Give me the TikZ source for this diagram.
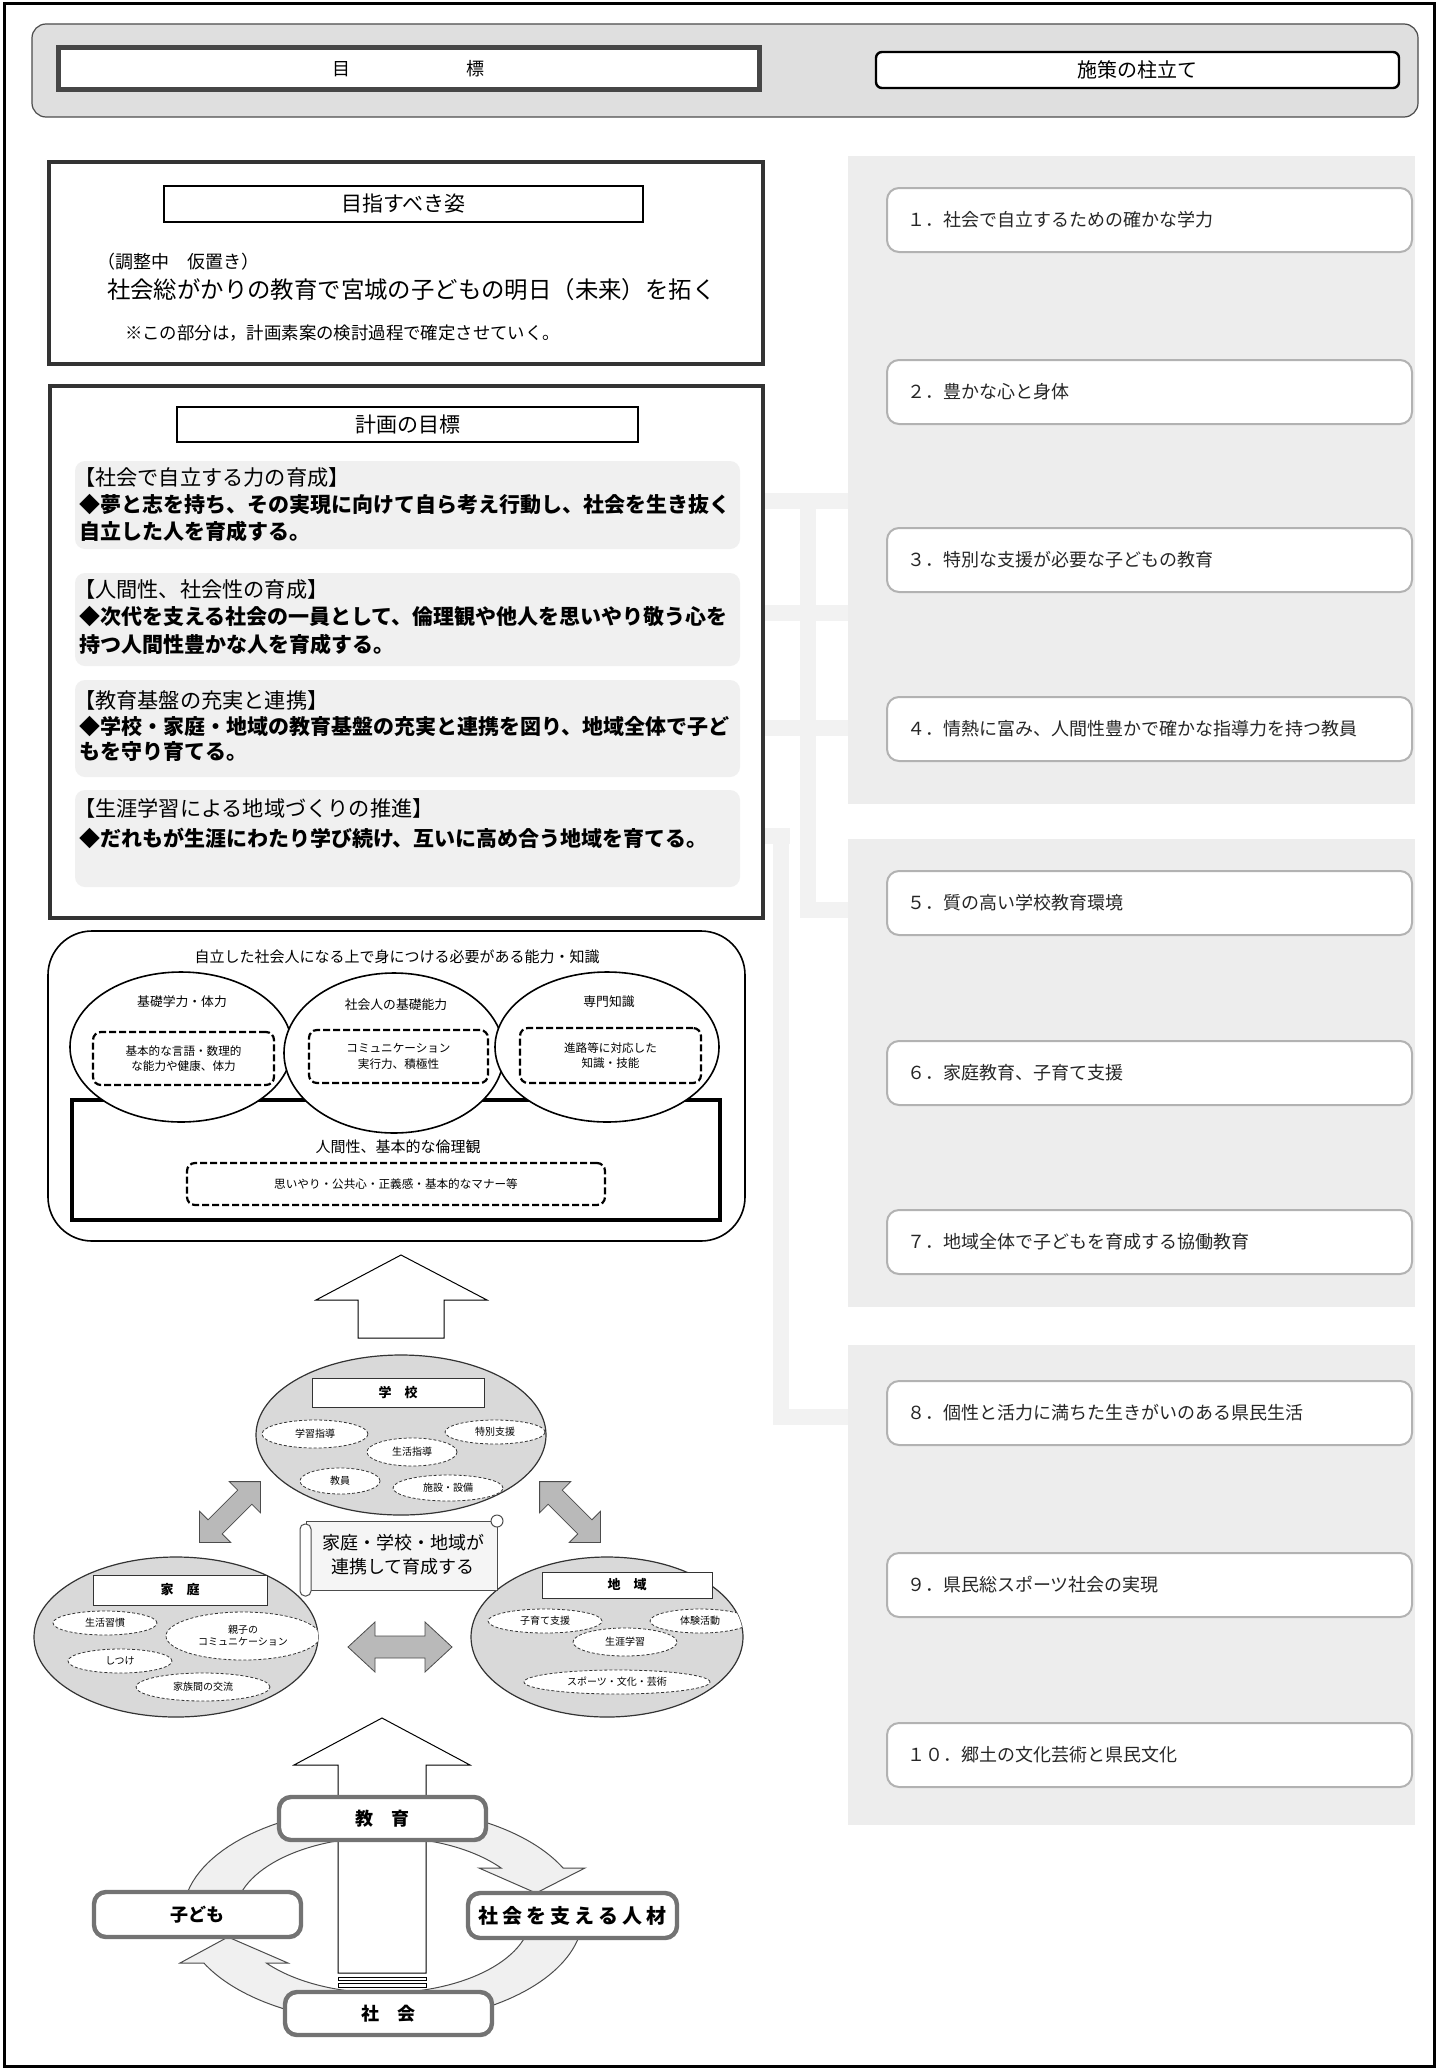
\documentclass[tikz,border=0pt]{standalone}
\usepackage{fontspec}
\setmainfont{Noto Sans CJK JP}
\usetikzlibrary{shapes.geometric}
\begin{document}
\begin{tikzpicture}[x=0.5pt,y=-0.5pt,
  every node/.style={inner sep=0pt,outer sep=0pt},
  fs/.style={font=\fontsize{#1pt}{#1pt}\selectfont},
  fsb/.style={font=\fontsize{#1pt}{#1pt}\selectfont\bfseries},
  panel/.style={fill=gray!14,draw=none},
  faint/.style={draw=gray!10,line width=8pt},
  itembox/.style={draw=gray!60,line width=1pt,fill=white,rounded corners=6pt,minimum width=262.5pt,minimum height=32pt},
  itemtext/.style={fs=9,text=black!85,anchor=west},
  goalbox/.style={draw=black!80,line width=2pt,fill=white},
  titlebox/.style={draw=black,line width=0.6pt,fill=white},
  band/.style={fill=gray!12,rounded corners=5pt},
  goalhead/.style={fs=10.6,anchor=west},
  goalline/.style={fsb=10.5,anchor=west},
  bigell/.style={ellipse,draw=black,line width=0.8pt,fill=white},
  dbox/.style={draw=black,line width=1.1pt,dash pattern=on 3.5pt off 1.5pt,rounded corners=4pt},
  areaell/.style={ellipse,draw=black!80,line width=0.6pt,fill=gray!30},
  smell/.style={ellipse,draw=black!80,line width=0.4pt,dash pattern=on 1.5pt off 1pt,fill=white,fs=5,align=center},
  lblbox/.style={draw=black!80,line width=0.5pt,fill=white,fsb=6.5},
  ring/.style={fill=gray!12,draw=black!70,line width=0.5pt},
  cyclebox/.style={draw=black!55,line width=2.2pt,fill=white,rounded corners=6pt},
  hollow/.style={draw=black,line width=0.5pt,fill=white},
  pics/dblarr/.style n args={4}{code={
    \draw[fill=gray!55,draw=black!70,line width=0.4pt]
      (-#1,0) -- (-#1+#2,-#3) -- (-#1+#2,-#4) -- (#1-#2,-#4) -- (#1-#2,-#3) -- (#1,0)
      -- (#1-#2,#3) -- (#1-#2,#4) -- (-#1+#2,#4) -- (-#1+#2,#3) -- cycle;
  }}
]
\useasboundingbox (0,0) rectangle (1438,2071);
\fill[white] (0,0) rectangle (1438,2071);

% outer frame
\draw[line width=1.5pt] (4,4) rectangle (1434,2066);

% header band
\node[fill=gray!25,draw=black!70,line width=0.6pt,rounded corners=7pt,minimum width=693pt,minimum height=46.5pt] (hdr) at (725,70.5) {};
\node[draw=gray!55!black,line width=2.5pt,fill=white,minimum width=350.5pt,minimum height=21pt,fs=9] (mokuhyo) at (408.5,69) {目\hspace{58pt}標};
\node[draw=black,line width=1.2pt,fill=white,rounded corners=3pt,minimum width=261.5pt,minimum height=18pt,fs=10] (shisaku) at (1137.5,70) {施策の柱立て};

% right panels
\fill[panel] (848,156) rectangle (1415,804);
\fill[panel] (848,839) rectangle (1415,1307);
\fill[panel] (848,1345) rectangle (1415,1825);

% faint connectors
\draw[faint] (763,501) -- (848,501);
\draw[faint] (763,613) -- (848,613);
\draw[faint] (763,728) -- (848,728);
\draw[faint] (763,836) -- (790,836);
\draw[faint] (808,497) -- (808,910) -- (848,910);
\draw[faint] (781,832) -- (781,1417) -- (848,1417);

% items
\foreach \n/\yy/\t in {1/220/１．社会で自立するための確かな学力,
  2/392/２．豊かな心と身体,
  3/560/３．特別な支援が必要な子どもの教育,
  4/729/４．情熱に富み、人間性豊かで確かな指導力を持つ教員,
  5/903/５．質の高い学校教育環境,
  6/1073/６．家庭教育、子育て支援,
  7/1242/７．地域全体で子どもを育成する協働教育,
  8/1413/８．個性と活力に満ちた生きがいのある県民生活,
  9/1585/９．県民総スポーツ社会の実現,
  10/1755/１０．郷土の文化芸術と県民文化}{
  \node[itembox] (item\n) at (1149.5,\yy) {};
  \node[itemtext] (itemt\n) at (907,\yy) {\t};
}

% 目指すべき姿
\node[goalbox,minimum width=357pt,minimum height=101pt] (sugata) at (406,263) {};
\node[titlebox,minimum width=239.5pt,minimum height=18pt,fs=10.5] (sugatat) at (403.5,204) {目指すべき姿};
\node[fs=9,anchor=west] (chosei) at (97,262) {（調整中　仮置き）};
\node[fs=11.7,anchor=west] (sugatamain) at (107,290) {社会総がかりの教育で宮城の子どもの明日（未来）を拓く};
\node[fs=8.7,anchor=west] (sugatanote) at (125,333) {※この部分は，計画素案の検討過程で確定させていく。};

% 計画の目標
\node[goalbox,minimum width=356.5pt,minimum height=266pt] (keikaku) at (406.5,652) {};
\fill[band] (75,461) rectangle (740,549);
\fill[band] (75,573) rectangle (740,666);
\fill[band] (75,680) rectangle (740,777);
\fill[band] (75,790) rectangle (740,887);
\node[titlebox,minimum width=230.5pt,minimum height=17.5pt,fs=10.5] (keikakut) at (407.5,424.5) {計画の目標};
\node[goalhead] (g1h) at (74,477) {【社会で自立する力の育成】};
\node[goalline] (g1a) at (79,505) {◆夢と志を持ち、その実現に向けて自ら考え行動し、社会を生き抜く};
\node[goalline] (g1b) at (79,531) {自立した人を育成する。};
\node[goalhead] (g2h) at (74,589) {【人間性、社会性の育成】};
\node[goalline] (g2a) at (79,617) {◆次代を支える社会の一員として、倫理観や他人を思いやり敬う心を};
\node[goalline] (g2b) at (79,644) {持つ人間性豊かな人を育成する。};
\node[goalhead] (g3h) at (74,700) {【教育基盤の充実と連携】};
\node[goalline] (g3a) at (79,727) {◆学校・家庭・地域の教育基盤の充実と連携を図り、地域全体で子ど};
\node[goalline] (g3b) at (79,752) {もを守り育てる。};
\node[goalhead] (g4h) at (74,808) {【生涯学習による地域づくりの推進】};
\node[goalline] (g4a) at (79,838) {◆だれもが生涯にわたり学び続け、互いに高め合う地域を育てる。};

% competency block
\node[draw=black,line width=0.8pt,fill=white,rounded corners=22pt,minimum width=348.5pt,minimum height=155pt] (comp) at (396.5,1086) {};
\node[fs=7.5] (compt) at (397,957) {自立した社会人になる上で身につける必要がある能力・知識};
\node[draw=black,line width=1.6pt,minimum width=324pt,minimum height=60pt] (ningen) at (396,1160) {};
\node[bigell,minimum width=111pt,minimum height=75pt] (kiso) at (181,1047) {};
\node[bigell,minimum width=110pt,minimum height=80pt] (shakai) at (394,1053) {};
\node[bigell,minimum width=112pt,minimum height=75pt] (senmon) at (607,1047) {};
\node[fs=6.4] (kisot) at (182,1002) {基礎学力・体力};
\node[fs=6.4] (shakait) at (396,1005) {社会人の基礎能力};
\node[fs=6.4] (senmont) at (609,1002) {専門知識};
\node[dbox,minimum width=90.5pt,minimum height=26.5pt,fs=5.8,align=center] (kisod) at (183.5,1058.5) {基本的な言語・数理的\\[2pt]な能力や健康、体力};
\node[dbox,minimum width=89.5pt,minimum height=26.5pt,fs=5.8,align=center] (shakaid) at (398.5,1056.5) {コミュニケーション\\[2pt]実行力、積極性};
\node[dbox,minimum width=90.5pt,minimum height=27.5pt,fs=5.8,align=center] (senmond) at (610.5,1055.5) {進路等に対応した\\[2pt]知識・技能};
\node[fs=7.5] (ningent) at (398,1147) {人間性、基本的な倫理観};
\node[dbox,minimum width=209pt,minimum height=21pt,fs=5.8] (ningend) at (396,1184) {思いやり・公共心・正義感・基本的なマナー等};

% hollow up arrow 1
\draw[hollow] (358,1338) -- (358,1300) -- (316,1300) -- (401,1255) -- (487,1300) -- (444,1300) -- (444,1338) -- cycle;

% 学校
\node[areaell,minimum width=145pt,minimum height=80pt] (gakko) at (401,1435) {};
\begin{scope}
\clip (401,1435) ellipse [x radius=72.5pt,y radius=40pt];
\node[smell,minimum width=53pt,minimum height=14pt] (g_a) at (315,1434) {学習指導};
\node[smell,minimum width=50pt,minimum height=12pt] (g_b) at (495,1432) {特別支援};
\node[smell,minimum width=45pt,minimum height=14pt] (g_c) at (412,1452) {生活指導};
\node[smell,minimum width=40pt,minimum height=13pt] (g_d) at (340,1481) {教員};
\node[smell,minimum width=55pt,minimum height=13pt] (g_e) at (448,1488) {施設・設備};
\end{scope}
\node[lblbox,minimum width=86pt,minimum height=14.5pt] (gakkol) at (398,1392.5) {学　校};

% 家庭
\node[areaell,minimum width=142pt,minimum height=80pt] (katei) at (176,1637) {};
\begin{scope}
\clip (176,1637) ellipse [x radius=71pt,y radius=40pt];
\node[smell,minimum width=52pt,minimum height=12pt] (k_a) at (105,1623) {生活習慣};
\node[smell,minimum width=77pt,minimum height=24pt] (k_b) at (243,1636) {親子の\\[1pt]コミュニケーション};
\node[smell,minimum width=52pt,minimum height=12pt] (k_c) at (120,1661) {しつけ};
\node[smell,minimum width=67pt,minimum height=14pt] (k_d) at (203,1687) {家族間の交流};
\end{scope}
\node[lblbox,minimum width=87pt,minimum height=15pt] (kateil) at (180,1590) {家　庭};

% 地域
\node[areaell,minimum width=136pt,minimum height=80pt] (chiiki) at (607,1637) {};
\begin{scope}
\clip (607,1637) ellipse [x radius=68pt,y radius=40pt];
\node[smell,minimum width=57pt,minimum height=12pt] (c_a) at (545,1621) {子育て支援};
\node[smell,minimum width=50pt,minimum height=12pt] (c_b) at (700,1621) {体験活動};
\node[smell,minimum width=52pt,minimum height=14pt] (c_c) at (625,1642) {生涯学習};
\node[smell,minimum width=93pt,minimum height=12pt] (c_d) at (617,1682) {スポーツ・文化・芸術};
\end{scope}
\node[lblbox,minimum width=85pt,minimum height=13pt] (chiikil) at (627,1585) {地　域};

% double arrows
\pic[rotate=45] (dl) at (230,1512) {dblarr={43}{22}{22}{10}};
\pic[rotate=-45] (dr) at (570,1512) {dblarr={43}{22}{22}{10}};
\pic (dh) at (400,1647) {dblarr={52}{27}{25}{11}};

% scroll
\node[draw=black!70,line width=0.5pt,fill=gray!8,minimum width=95.5pt,minimum height=34.5pt] (scroll) at (401.5,1555.5) {};
\draw[draw=black!70,line width=0.5pt,fill=white,rounded corners=2.5pt] (300,1524) rectangle (311,1596);
\draw[draw=black!70,line width=0.5pt,fill=white] (497,1521) circle (3pt);
\node[fs=9,align=center] (scrollt) at (403,1555) {家庭・学校・地域が\\[3pt]連携して育成する};

% cycle ring arcs
\filldraw[ring] plot[domain=190:255,samples=25] ({383+200*cos(\x)},{1915+108*sin(\x)})
  -- plot[domain=260:190,samples=25] ({383+148*cos(\x)},{1915+78*sin(\x)}) -- cycle;
\filldraw[ring] plot[domain=285:334.2,samples=25] ({383+200*cos(\x)},{1915+108*sin(\x)})
  -- (585,1868) -- (536,1893) -- (479,1868) -- (501,1868)
  -- plot[domain=322.95:280,samples=25] ({383+148*cos(\x)},{1915+78*sin(\x)}) -- cycle;
\filldraw[ring] plot[domain=8:60,samples=25] ({383+200*cos(\x)},{1915+108*sin(\x)})
  -- plot[domain=75:8,samples=25] ({383+148*cos(\x)},{1915+78*sin(\x)}) -- cycle;
\filldraw[ring] plot[domain=105:142,samples=25] ({383+148*cos(\x)},{1915+78*sin(\x)})
  -- (288,1963) -- (228,1937) -- (180,1963) -- (204,1963)
  -- plot[domain=153.6:115,samples=25] ({383+200*cos(\x)},{1915+108*sin(\x)}) -- cycle;

% hollow up arrow 2
\draw[hollow] (338,1973) -- (338,1765) -- (294,1765) -- (382,1718) -- (470,1765) -- (426,1765) -- (426,1973) -- cycle;
\draw[hollow] (338,1977) rectangle (426,1980);
\draw[hollow] (338,1983) rectangle (426,1987);

% cycle boxes
\node[cyclebox,minimum width=103.5pt,minimum height=21.5pt,fsb=9] (kyoiku) at (382.5,1818.5) {教　育};
\node[cyclebox,minimum width=103.5pt,minimum height=22.5pt,fsb=9] (kodomo) at (197.5,1914.5) {子ども};
\node[cyclebox,minimum width=104.5pt,minimum height=22.5pt,fsb=10] (jinzai) at (572.5,1915.5) {\addfontfeature{LetterSpace=20}社会を支える人材};
\node[cyclebox,minimum width=103.5pt,minimum height=21.5pt,fsb=9] (shakaib) at (388.5,2013.5) {社　会};
\end{tikzpicture}
\end{document}
